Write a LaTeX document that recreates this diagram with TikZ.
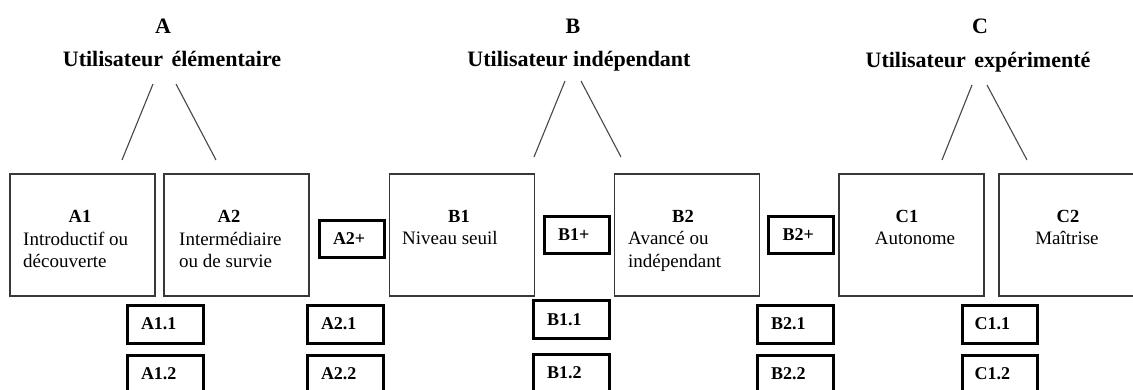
\documentclass[tikz,border=0pt]{standalone}
\usepackage{fontspec}
\setmainfont{Liberation Serif}
\begin{document}
\begin{tikzpicture}[x=1pt,y=-1pt,
  bigbox/.style={draw=black!78, line width=1.5pt, minimum width=145pt, minimum height=122pt, inner sep=0pt},
  sbox/.style={draw=black, line width=3pt, minimum height=38pt, inner xsep=14pt, inner ysep=0pt, align=left,
     font=\bfseries\fontsize{18}{20}\selectfont},
  srow/.style={sbox, minimum width=76pt, text width=48pt},
  splus/.style={sbox, minimum width=65pt, text width=37pt, minimum height=37pt},
  head/.style={anchor=base, font=\bfseries\fontsize{18.5}{20}\selectfont, inner sep=0pt},
  body/.style={anchor=base west, font=\fontsize{19}{20}\selectfont, inner sep=0pt},
  ttl/.style={anchor=base, font=\bfseries\fontsize{22}{24}\selectfont, inner sep=0pt},
  conn/.style={draw=black!72, line width=1.1pt}]
\useasboundingbox (0,0) rectangle (1133,389);
\clip (0,0) rectangle (1133,389);
% titles
\node[ttl] (tA) at (163,33) {A};
\node[ttl] (uA) at (172,66) {Utilisateur\hspace{3pt} élémentaire};
\node[ttl] (tB) at (573,33) {B};
\node[ttl] (uB) at (579,66) {Utilisateur indépendant};
\node[ttl] (tC) at (980,33) {C};
\node[ttl] (uC) at (978,67) {Utilisateur\hspace{3pt} expérimenté};
% connector ends
\coordinate (a1) at (153,84); \coordinate (a2) at (122,160);
\coordinate (a3) at (176,84); \coordinate (a4) at (216,160);
\coordinate (b1) at (565,81); \coordinate (b2) at (534,157);
\coordinate (b3) at (581,81); \coordinate (b4) at (621,157);
\coordinate (c1) at (972,85); \coordinate (c2) at (942,160);
\coordinate (c3) at (987,85); \coordinate (c4) at (1027,160);
\draw[conn] (a1) -- (a2); \draw[conn] (a3) -- (a4);
\draw[conn] (b1) -- (b2); \draw[conn] (b3) -- (b4);
\draw[conn] (c1) -- (c2); \draw[conn] (c3) -- (c4);
% big boxes
\node[bigbox] (A1) at (82.5,235) {};
\node[bigbox] (A2) at (236.5,235) {};
\node[bigbox] (B1) at (462,235) {};
\node[bigbox] (B2) at (687,235) {};
\node[bigbox] (C1) at (911.5,235) {};
\node[bigbox] (C2) at (1071.5,235) {};
\node[head] (A1h) at (80,222) {A1};
\node[body] (A1t1) at (23,245) {Introductif ou};
\node[body] (A1t2) at (23,267) {découverte};
\node[head] (A2h) at (229,222) {A2};
\node[body] (A2t1) at (179,245) {Intermédiaire};
\node[body] (A2t2) at (179,267) {ou de survie};
\node[head] (B1h) at (459,222) {B1};
\node[body] (B1t1) at (402,244) {Niveau seuil};
\node[head] (B2h) at (683,222) {B2};
\node[body] (B2t1) at (628,244) {Avancé ou};
\node[body] (B2t2) at (628,267) {indépendant};
\node[head] (C1h) at (907,222) {C1};
\node[body,anchor=base] (C1t1) at (915,244) {Autonome};
\node[head] (C2h) at (1068,222) {C2};
\node[body,anchor=base] (C2t1) at (1067,244) {Maîtrise};
% plus boxes
\node[splus] (A2p) at (351.5,238.5) {A2+};
\node[splus] (B1p) at (576.5,234.5) {B1+};
\node[splus, minimum width=64pt] (B2p) at (801,234.5) {B2+};
% sub-level boxes
\node[srow] (A11) at (165,324) {A1.1};
\node[srow] (A12) at (165,374) {A1.2};
\node[srow] (A21) at (345,324) {A2.1};
\node[srow] (A22) at (345,374) {A2.2};
\node[srow] (B11) at (571,319.5) {B1.1};
\node[srow] (B12) at (571,373) {B1.2};
\node[srow] (B21) at (795,324) {B2.1};
\node[srow] (B22) at (795,374) {B2.2};
\node[srow, minimum width=75pt, text width=50pt, inner xsep=12.5pt] (C11) at (999.5,324) {C1.1};
\node[srow, minimum width=75pt, text width=50pt, inner xsep=12.5pt] (C12) at (999.5,374) {C1.2};
\end{tikzpicture}
\end{document}
